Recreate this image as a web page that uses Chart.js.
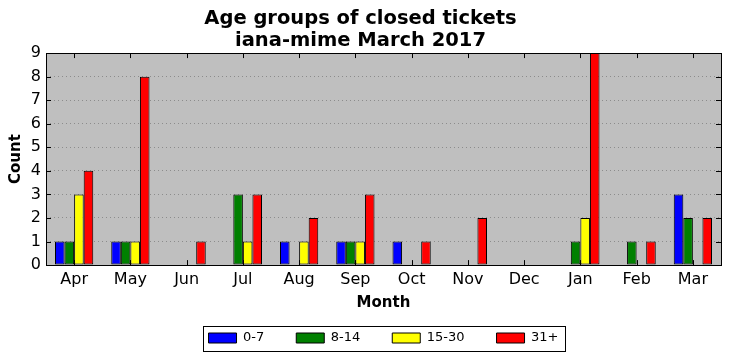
<!DOCTYPE html>
<html>
<head>
<meta charset="utf-8">
<script src="https://cdn.jsdelivr.net/npm/chart.js@4/dist/chart.umd.min.js"></script>
<style>
  html, body { margin: 0; padding: 0; background: #fff; }
  #wrap { width: 731px; height: 361px; }
</style>
</head>
<body>
<div id="wrap"><canvas id="c"></canvas></div>
<script>
/* ── Data ── */
const months  = ['Apr', 'May', 'Jun', 'Jul', 'Aug', 'Sep', 'Oct', 'Nov', 'Dec', 'Jan', 'Feb', 'Mar'];
const age0_7   = [1, 1, 0, 0, 1, 1, 1, 0, 0, 0, 0, 3];
const age8_14  = [1, 1, 0, 3, 0, 1, 0, 0, 0, 1, 1, 2];
const age15_30 = [3, 1, 0, 1, 1, 1, 0, 0, 0, 2, 0, 0];
const age31    = [4, 8, 1, 3, 2, 3, 1, 2, 0, 9, 1, 2];
const titleLines = ['Age groups of closed tickets', 'iana-mime March 2017'];

const FONT = "'DejaVu Sans', sans-serif";
Chart.defaults.font.family = FONT;
Chart.defaults.color = '#000';

function series(label, data, color) {
    return {
        label:           label,
        data:            data,
        backgroundColor: color,
        borderColor:     '#000',
        borderWidth:     1,
        borderSkipped:   false,
        barPercentage:   1.0,
        categoryPercentage: 0.68,
    };
}

// grey plot background, frame, inward ticks, legend frame
const framePlugin = {
    id: 'frame',
    beforeDraw(chart) {
        const { ctx, chartArea: a } = chart;
        ctx.save();
        ctx.fillStyle = '#bfbfbf';
        ctx.fillRect(a.left, a.top, a.right - a.left, a.bottom - a.top);
        ctx.restore();
    },
    afterDraw(chart) {
        const { ctx, chartArea: a } = chart;
        const x = chart.scales.x, y = chart.scales.y;
        ctx.save();
        ctx.strokeStyle = '#000';
        ctx.lineWidth = 1;
        ctx.beginPath();
        x.ticks.forEach((t, i) => {
            const px = Math.round(x.getPixelForTick(i)) + 0.5;
            ctx.moveTo(px, a.bottom); ctx.lineTo(px, a.bottom - 5);
            ctx.moveTo(px, a.top);    ctx.lineTo(px, a.top + 5);
        });
        y.ticks.forEach((t, i) => {
            const py = Math.round(y.getPixelForTick(i)) + 0.5;
            ctx.moveTo(a.left, py);  ctx.lineTo(a.left + 5, py);
            ctx.moveTo(a.right, py); ctx.lineTo(a.right - 5, py);
        });
        ctx.stroke();
        ctx.strokeRect(Math.round(a.left) + 0.5, Math.round(a.top) + 0.5,
                       Math.round(a.right - a.left), Math.round(a.bottom - a.top));

        const hb = chart.legend.legendHitBoxes;
        if (hb && hb.length) {
            const l = hb[0].left - 6;
            const r = hb[hb.length - 1].left + hb[hb.length - 1].width + 6;
            const t = hb[0].top - 6;
            const b = hb[0].top + hb[0].height + 6;
            ctx.strokeRect(Math.round(l) + 0.5, Math.round(t) + 0.5, Math.round(r - l), Math.round(b - t));
        }
        ctx.restore();
    },
};

new Chart(document.getElementById('c'), {
    type: 'bar',
    data: {
        labels: months,
        datasets: [
            series('0-7',   age0_7,   '#0000ff'),
            series('8-14',  age8_14,  '#008000'),
            series('15-30', age15_30, '#ffff00'),
            series('31+',   age31,    '#ff0000'),
        ],
    },
    options: {
        responsive:          true,
        maintainAspectRatio: false,
        animation:           false,
        layout: { padding: { left: 0, right: 10, top: 8, bottom: 6.5 } },
        scales: {
            x: {
                grid:   { display: false, drawTicks: false },
                border: { display: false },
                ticks:  { color: '#000', font: { size: 16 }, padding: 5, maxRotation: 0 },
                title:  { display: true, text: 'Month', color: '#000',
                          font: { size: 15, weight: 'bold' }, padding: { top: 0, bottom: 3 } },
                afterFit: s => { s.height = 50; },
            },
            y: {
                min: 0,
                max: 9,
                grid:   { color: '#8c8c8c', drawTicks: false, lineWidth: 1 },
                border: { display: false, dash: [1, 3] },
                ticks:  { stepSize: 1, color: '#000', font: { size: 16 }, padding: 5 },
                title:  { display: true, text: 'Count', color: '#000',
                          font: { size: 15, weight: 'bold' }, padding: { top: 7, bottom: 0 } },
                afterFit: s => { s.width = 46; },
            },
        },
        plugins: {
            title: {
                display: true,
                text:    titleLines,
                color:   '#000',
                font:    { size: 19.5, weight: 'bold', lineHeight: 1.13 },
                padding: { top: 0, bottom: 1 },
            },
            legend: {
                position: 'bottom',
                fullSize: false,
                // empty title with negative padding pulls the item row up
                title: { display: true, text: '', font: { size: 12 }, padding: { top: -30, bottom: 0 } },
                labels: {
                    color:     '#000',
                    boxWidth:  28,
                    boxHeight: 10,
                    font:      { size: 13 },
                    padding:   32,
                },
            },
            tooltip: { enabled: false },
        },
    },
    plugins: [framePlugin],
});
</script>
</body>
</html>
